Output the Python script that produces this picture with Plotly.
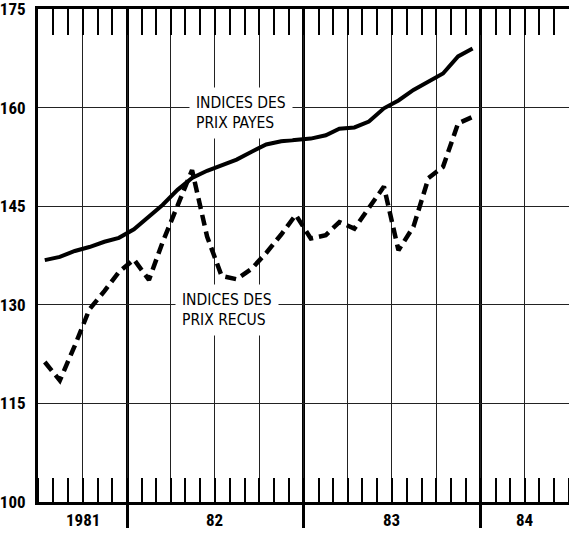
import pandas as pd
import plotly.graph_objects as go

# Monthly observations, July 1981 - December 1983 (plotted mid-month)
months = pd.date_range("1981-07-01", periods=30, freq="MS") + pd.Timedelta(days=14)

prix_payes = [136.8, 137.3, 138.2, 138.8, 139.6, 140.2,
              141.5, 143.4, 145.2, 147.5, 149.3, 150.4,
              151.3, 152.1, 153.3, 154.4, 154.9, 155.1,
              155.3, 155.8, 156.8, 157.0, 157.9, 159.9,
              161.1, 162.7, 163.9, 165.2, 167.8, 169.0]

prix_recus = [121.3, 118.5, 123.8, 129.3, 132.1, 135.0,
              136.9, 133.8, 139.5, 145.0, 150.5, 140.4,
              134.4, 133.9, 135.5, 137.9, 140.7, 143.7,
              140.1, 140.6, 142.6, 141.6, 144.8, 148.0,
              138.3, 141.9, 149.3, 151.0, 157.6, 158.6]

y_ticks = [100, 115, 130, 145, 160, 175]
y_range = [100, 175.02]
year_label_pos = ["1981-10-01", "1982-07-01", "1983-07-01", "1984-04-01"]
year_labels = ["1981", "82", "83", "84"]
year_bounds = ["1982-01-01", "1983-01-01", "1984-01-01"]
x_range = ["1981-07-01", "1984-07-01"]

label_payes = "INDICES DES<br>PRIX PAYES"
label_recus = "INDICES DES<br>PRIX RECUS"

BOLD_NARROW = "Roboto Condensed, DejaVu Sans Condensed, sans-serif"
TEXT_NARROW = "DejaVu Sans Condensed, sans-serif"

fig = go.Figure()
fig.add_trace(go.Scatter(x=months, y=prix_payes, mode="lines",
                         line=dict(color="black", width=4), showlegend=False,
                         xaxis="x", yaxis="y"))
fig.add_trace(go.Scatter(x=months, y=prix_recus, mode="lines",
                         line=dict(color="black", width=4.5, dash="11px,6px"),
                         showlegend=False, xaxis="x2", yaxis="y"))

fig.update_layout(
    width=569, height=535,
    margin=dict(l=38, r=0, t=9, b=33, autoexpand=False),
    paper_bgcolor="white", plot_bgcolor="white",
    # bottom: thick year lines extending below, monthly inside ticks
    xaxis=dict(type="date", range=x_range, showticklabels=False,
               zeroline=False, automargin=False,
               tickmode="array", tickvals=year_bounds,
               ticks="outside", ticklen=23, tickwidth=3, tickcolor="black",
               showgrid=True, gridcolor="black", gridwidth=3,
               showline=True, linecolor="black", linewidth=3,
               minor=dict(tickmode="linear", tick0="1981-07-01", dtick="M1",
                          ticks="inside", ticklen=24, tickwidth=1.5,
                          tickcolor="black", showgrid=False)),
    # top: quarterly grid + monthly inside ticks
    xaxis2=dict(type="date", range=x_range, showticklabels=False,
                zeroline=False, automargin=False,
                overlaying="x", side="top", anchor="y",
                tickmode="linear", tick0="1981-07-01", dtick="M3",
                ticks="inside", ticklen=26, tickwidth=1.5, tickcolor="black",
                showgrid=True, gridcolor="#222", gridwidth=1,
                showline=True, linecolor="black", linewidth=3,
                minor=dict(tickmode="linear", tick0="1981-07-01", dtick="M1",
                           ticks="inside", ticklen=26, tickwidth=1.5,
                           tickcolor="black", showgrid=False)),
    yaxis=dict(range=y_range, tickmode="array", tickvals=y_ticks,
               ticktext=["<b>%d</b>" % v for v in y_ticks],
               showgrid=True, gridcolor="#222", gridwidth=1,
               showline=True, linecolor="black", linewidth=3, ticks="",
               zeroline=False, automargin=False, ticklabelstandoff=6,
               ticklabeloverflow="allow",
               tickfont=dict(family=BOLD_NARROW, size=17, color="black")),
)

for pos, lab in zip(year_label_pos, year_labels):
    fig.add_annotation(x=pos, y=0, xref="x", yref="paper", text="<b>%s</b>" % lab,
                       showarrow=False, xanchor="center", yanchor="middle",
                       yshift=-18, font=dict(family=BOLD_NARROW, size=17, color="black"))

fig.add_annotation(x="1982-05-08", y=159.2, xref="x", yref="y",
                   text=label_payes, showarrow=False, xanchor="left",
                   yanchor="middle", align="left", bgcolor="white",
                   borderpad=6,
                   font=dict(family=TEXT_NARROW, size=15.5, color="black"))
fig.add_annotation(x="1982-04-09", y=129.2, xref="x", yref="y",
                   text=label_recus, showarrow=False, xanchor="left",
                   yanchor="middle", align="left", bgcolor="white",
                   borderpad=6,
                   font=dict(family=TEXT_NARROW, size=15.5, color="black"))

fig.write_html("out.html", config={"displayModeBar": False},
               post_script="document.body.style.margin='0';document.body.style.overflow='hidden';")
